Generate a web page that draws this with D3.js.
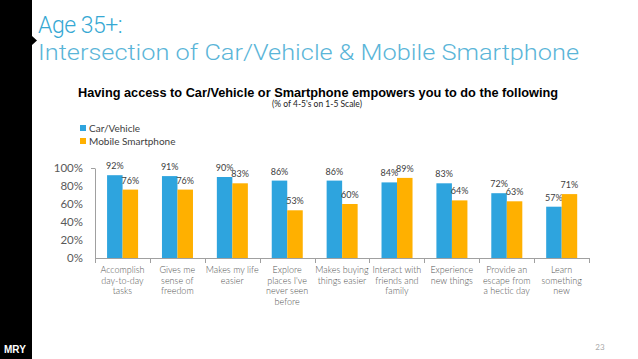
<!DOCTYPE html>
<html><head><meta charset="utf-8">
<script src="https://cdn.jsdelivr.net/npm/d3@7"></script>
<style>html,body{margin:0;padding:0;background:#fff;overflow:hidden}</style>
</head><body>
<svg id="c" width="638" height="359"></svg>
<script>
const categories = [
  ["Accomplish","day-to-day","tasks"],
  ["Gives me","sense of","freedom"],
  ["Makes my life","easier"],
  ["Explore","places I've","never seen","before"],
  ["Makes buying","things easier"],
  ["Interact with","friends and","family"],
  ["Experience","new things"],
  ["Provide an","escape from","a hectic day"],
  ["Learn","something","new"]
];
const seriesNames = ["Car/Vehicle","Mobile Smartphone"];
const carVehicle = [92,91,90,86,86,84,83,72,57];
const mobileSmartphone = [76,76,83,53,60,89,64,63,71];
const yTicks = [0,20,40,60,80,100];
const colors = ["#2ea4de","#ffb000"];

const svg = d3.select("#c");
// left black strip
svg.append("rect").attr("x",0).attr("y",0).attr("width",32).attr("height",359).attr("fill","#000");
svg.append("path").attr("d","M32,36 L37,40.5 L32,45 Z").attr("fill","#000");
svg.append("text").attr("x",4).attr("y",353).attr("fill","#fff")
  .attr("font-family","Liberation Sans, Arial").attr("font-weight","bold").attr("font-size",10).text("MRY");

// heading
svg.append("text").attr("x",38).attr("y",33).attr("fill","#36a8d3")
  .attr("font-family","Roboto, Lato, sans-serif").attr("font-weight",300).attr("font-size",23).attr("letter-spacing",-0.5).text("Age 35+:");
svg.append("text").attr("x",38).attr("y",60).attr("fill","#5ab5d8")
  .attr("font-family","Roboto, Lato, sans-serif").attr("font-weight",300).attr("font-size",22)
  .attr("textLength",541).attr("lengthAdjust","spacingAndGlyphs").text("Intersection of Car/Vehicle & Mobile Smartphone");

// chart title
svg.append("text").attr("x",78).attr("y",97).attr("fill","#000")
  .attr("font-family","Liberation Sans, Arial").attr("font-weight","bold").attr("font-size",12.5)
  .attr("textLength",480).attr("lengthAdjust","spacingAndGlyphs").text("Having access to Car/Vehicle or Smartphone empowers you to do the following");
svg.append("text").attr("x",317).attr("y",107).attr("text-anchor","middle").attr("fill","#222")
  .attr("font-family","Lato, sans-serif").attr("font-size",8.5).text("(% of 4-5's on 1-5 Scale)");

// legend
seriesNames.forEach((n,i)=>{
  svg.append("rect").attr("x",80).attr("y",125+i*13).attr("width",6).attr("height",6).attr("fill",colors[i]);
  svg.append("text").attr("x",89).attr("y",132+i*13).attr("fill","#404040")
    .attr("font-family","Lato, sans-serif").attr("font-size",10).text(n);
});

// scales
const x0 = d3.scaleBand().domain(d3.range(categories.length)).range([95,589]).paddingInner(0).paddingOuter(0);
const x1 = d3.scaleBand().domain([0,1]).range([x0.bandwidth()*0.22, x0.bandwidth()*0.785]).padding(0);
const y = d3.scaleLinear().domain([0,100]).range([258,168]);

// y axis
const yAxis = d3.axisLeft(y).tickValues(yTicks).tickFormat(d=>d+"%").tickSize(0).tickPadding(12);
const gy = svg.append("g").attr("transform","translate(95,0)").call(yAxis);
gy.select(".domain").attr("stroke","#a0a0a0");
gy.selectAll("text").attr("font-family","Lato, sans-serif").attr("font-size",11.5).attr("fill","#595959");
svg.append("line").attr("x1",91).attr("x2",95).attr("y1",y(100)+0.5).attr("y2",y(100)+0.5).attr("stroke","#a0a0a0");

// bars
const data = categories.map((c,i)=>[carVehicle[i], mobileSmartphone[i]]);
const g = svg.append("g");
data.forEach((vals,i)=>{
  vals.forEach((v,j)=>{
    const bx = x0(i)+x1(j);
    g.append("rect").attr("x",bx).attr("y",y(v)).attr("width",x1.bandwidth()).attr("height",y(0)-y(v)).attr("fill",colors[j]);
    g.append("text").attr("x",bx+x1.bandwidth()/2).attr("y",y(v)-6).attr("text-anchor","middle")
      .attr("font-family","Lato, sans-serif").attr("font-size",9).attr("fill","#404040").text(v+"%");
  });
});

// x axis
const xAxisLine = svg.append("g");
xAxisLine.append("line").attr("x1",95).attr("x2",589).attr("y1",258.5).attr("y2",258.5).attr("stroke","#a0a0a0");
d3.range(categories.length+1).forEach(k=>{
  const xx = Math.round(95 + k*x0.bandwidth())+0.5;
  xAxisLine.append("line").attr("x1",xx).attr("x2",xx).attr("y1",258).attr("y2",263).attr("stroke","#a0a0a0");
});
categories.forEach((lines,i)=>{
  const t = svg.append("text").attr("text-anchor","middle").attr("font-family","Lato, sans-serif")
    .attr("font-weight",300).attr("font-size",9).attr("fill","#555");
  lines.forEach((l,k)=>{
    t.append("tspan").attr("x",x0(i)+x0.bandwidth()/2).attr("y",273+k*10.6).text(l);
  });
});

// page number
svg.append("text").attr("x",600).attr("y",350).attr("text-anchor","middle").attr("font-family","Lato, sans-serif")
  .attr("font-size",8).attr("fill","#aaa").text("23");
</script>
</body></html>
